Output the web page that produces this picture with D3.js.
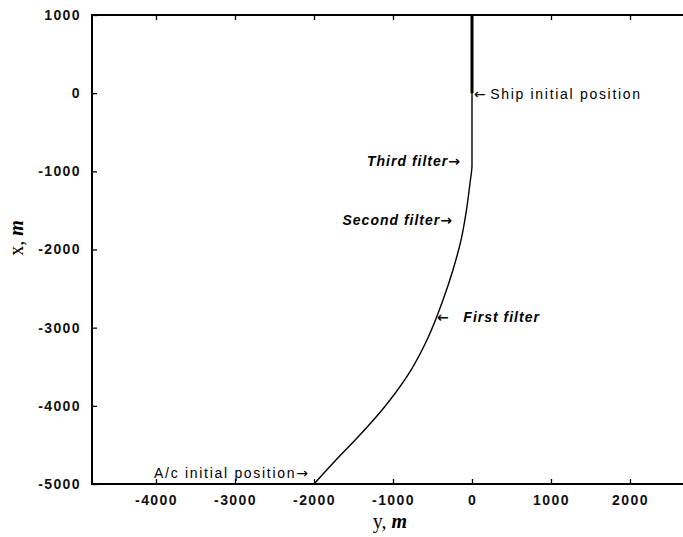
<!DOCTYPE html>
<html>
<head>
<meta charset="utf-8">
<script src="https://cdnjs.cloudflare.com/ajax/libs/d3/7.8.5/d3.min.js"></script>
<style>
  body { margin: 0; background: #fff; }
  svg { display: block; }
</style>
</head>
<body>
<script>
// aircraft track (y across, x up, metres)
var trackY = [-2000, -1722, -1443, -1139, -1038, -772, -570, -367, -241, -139, -70, -25, 0, 0];
var trackX = [-5000, -4693, -4399, -4053, -3925, -3542, -3158, -2646, -2262, -1879, -1495, -1149, -919, 1000];

// ship track (thick segment)
var shipY = [0, 0];
var shipX = [0, 1000];

var xTicks = [-4000, -3000, -2000, -1000, 0, 1000, 2000];
var yTicks = [1000, 0, -1000, -2000, -3000, -4000, -5000];

var width = 683, height = 537;
var mLeft = 92, mTop = 15, mBottom = 484;

var svg = d3.select("body").append("svg")
  .attr("width", width)
  .attr("height", height);

var x = d3.scaleLinear().domain([-4810, 2800]).range([mLeft, mLeft + 7610 * 0.079]);
var y = d3.scaleLinear().domain([-5000, 1000]).range([mBottom, mTop]);

var plain = function(d) { return String(d); };

// bottom axis, ticks point inward
svg.append("g")
  .attr("transform", "translate(0," + mBottom + ")")
  .call(d3.axisBottom(x).tickValues(xTicks).tickSize(-5).tickPadding(11).tickFormat(plain));
// top axis, ticks only
svg.append("g")
  .attr("transform", "translate(0," + mTop + ")")
  .call(d3.axisTop(x).tickValues(xTicks).tickSize(-5).tickFormat(""));
// left axis
svg.append("g")
  .attr("transform", "translate(" + mLeft + ",0)")
  .call(d3.axisLeft(y).tickValues(yTicks).tickSize(-5).tickPadding(11).tickFormat(plain));

svg.selectAll(".domain").remove();
svg.selectAll(".tick line").attr("stroke", "#000").attr("stroke-width", 1.3);
svg.selectAll(".tick text")
  .attr("fill", "#111")
  .style("font-family", "Liberation Sans, Arial, sans-serif")
  .style("font-size", "14px")
  .style("font-weight", "bold")
  .style("letter-spacing", "1.4px");

// frame (right side runs off the picture)
svg.append("path")
  .attr("d", "M" + x.range()[1] + "," + mTop + "H" + mLeft + "V" + mBottom + "H" + x.range()[1])
  .attr("fill", "none")
  .attr("stroke", "#000")
  .attr("stroke-width", 2);

var line = d3.line()
  .x(function(d) { return x(d[0]); })
  .y(function(d) { return y(d[1]); })
  .curve(d3.curveMonotoneY);

svg.append("path")
  .datum(d3.zip(trackY, trackX))
  .attr("d", line)
  .attr("fill", "none")
  .attr("stroke", "#000")
  .attr("stroke-width", 1.4);

svg.append("path")
  .datum(d3.zip(shipY, shipX))
  .attr("d", d3.line().x(function(d) { return x(d[0]); }).y(function(d) { return y(d[1]); }))
  .attr("fill", "none")
  .attr("stroke", "#000")
  .attr("stroke-width", 3);

// annotations: text, arrow side, anchor point in data units
var notes = [
  { t: "Ship initial position", arrow: "left", px: 25, py: -25, anchor: "start", style: "normal" },
  { t: "Third filter", arrow: "right", px: -152, py: -881, anchor: "end", style: "italic" },
  { t: "Second filter", arrow: "right", px: -253, py: -1636, anchor: "end", style: "italic" },
  { t: "First filter", arrow: "left", px: -443, py: -2876, anchor: "start", style: "italic" },
  { t: "A/c initial position", arrow: "right", px: -2076, py: -4872, anchor: "end", style: "normal" }
];

var note = svg.selectAll("text.note")
  .data(notes)
  .enter()
  .append("text")
  .attr("class", "note")
  .attr("x", function(d) { return x(d.px); })
  .attr("y", function(d) { return y(d.py); })
  .attr("text-anchor", function(d) { return d.anchor; })
  .attr("dominant-baseline", "middle")
  .style("white-space", "pre")
  .style("font-family", "Liberation Sans, Arial, sans-serif")
  .style("font-size", "14px")
  .style("font-style", function(d) { return d.style; })
  .style("font-weight", function(d) { return d.style == "italic" ? "bold" : "normal"; })
  .style("letter-spacing", function(d) { return d.style == "italic" ? "1px" : "1.7px"; });

note.filter(function(d) { return d.arrow == "left"; })
  .append("tspan")
  .style("font-family", "DejaVu Sans, sans-serif")
  .style("font-style", "normal")
  .style("letter-spacing", "0px")
  .text(function(d) { return d.style == "italic" ? "\u2190   " : "\u2190 "; });
note.append("tspan").text(function(d) { return d.t; });
note.filter(function(d) { return d.arrow == "right"; })
  .append("tspan")
  .style("font-family", "DejaVu Sans, sans-serif")
  .style("font-style", "normal")
  .style("letter-spacing", "0px")
  .text("\u2192");

// axis titles
var xt = svg.append("text")
  .attr("x", 390)
  .attr("y", 528)
  .attr("text-anchor", "middle")
  .style("font-family", "Liberation Serif, Times New Roman, serif")
  .style("font-size", "20px");
xt.append("tspan").text("y, ");
xt.append("tspan").style("font-style", "italic").style("font-weight", "bold").text("m");

var yt = svg.append("text")
  .attr("transform", "translate(23,238) rotate(-90)")
  .attr("text-anchor", "middle")
  .style("font-family", "Liberation Serif, Times New Roman, serif")
  .style("font-size", "20px");
yt.append("tspan").text("x, ");
yt.append("tspan").style("font-style", "italic").style("font-weight", "bold").text("m");
</script>
</body>
</html>
